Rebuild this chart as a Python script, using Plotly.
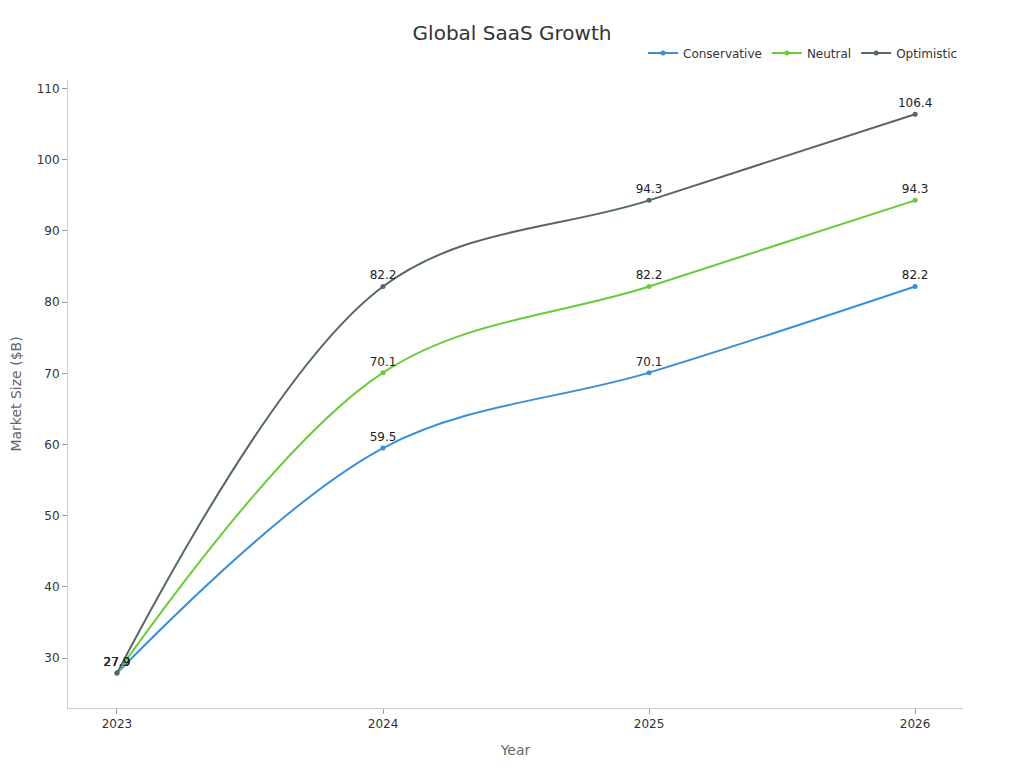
import plotly.graph_objects as go

years = ["2023", "2024", "2025", "2026"]
conservative = [27.9, 59.5, 70.1, 82.2]
neutral = [27.9, 70.1, 82.2, 94.3]
optimistic = [27.9, 82.2, 94.3, 106.4]

series = [
    ("Conservative", conservative, "#3b8fd4"),
    ("Neutral", neutral, "#6acb3a"),
    ("Optimistic", optimistic, "#56676a"),
]

fig = go.Figure()
for name, vals, color in series:
    fig.add_trace(go.Scatter(
        x=years, y=vals, name=name, mode="lines+markers+text",
        line=dict(color=color, width=2, shape="spline", smoothing=1),
        marker=dict(color=color, size=5),
        text=[f"{v:.1f}" for v in vals], textposition="top center",
        textfont=dict(size=12, color="#222222"),
    ))

font = "DejaVu Sans, Verdana, sans-serif"
fig.update_layout(
    width=1008, height=752,
    paper_bgcolor="white", plot_bgcolor="white",
    font=dict(family=font, size=12, color="#333333"),
    title=dict(text="Global SaaS Growth", x=0.5, xanchor="center", y=0.967, yanchor="middle",
               font=dict(size=20, color="#333333")),
    margin=dict(l=60, r=53, t=72, b=52),
    legend=dict(orientation="h", x=1, xanchor="right", y=1.02, yanchor="bottom",
                font=dict(size=12, color="#333333"), bgcolor="rgba(0,0,0,0)"),
    xaxis=dict(
        title=dict(text="Year", font=dict(size=14, color="#666666"), standoff=14),
        automargin=False,
        type="category", range=[-0.184, 3.18],
        showline=True, linecolor="#cccccc", linewidth=1,
        ticks="outside", tickcolor="#999999", ticklen=5,
        showgrid=False, zeroline=False,
    ),
    yaxis=dict(
        title=dict(text="Market Size ($B)", font=dict(size=14, color="#666666"), standoff=14),
        automargin=False,
        range=[23, 111.2], tickvals=[30, 40, 50, 60, 70, 80, 90, 100, 110],
        showline=True, linecolor="#cccccc", linewidth=1,
        ticks="outside", tickcolor="#999999", ticklen=5,
        showgrid=False, zeroline=False,
    ),
)

fig.write_html("out.html")
